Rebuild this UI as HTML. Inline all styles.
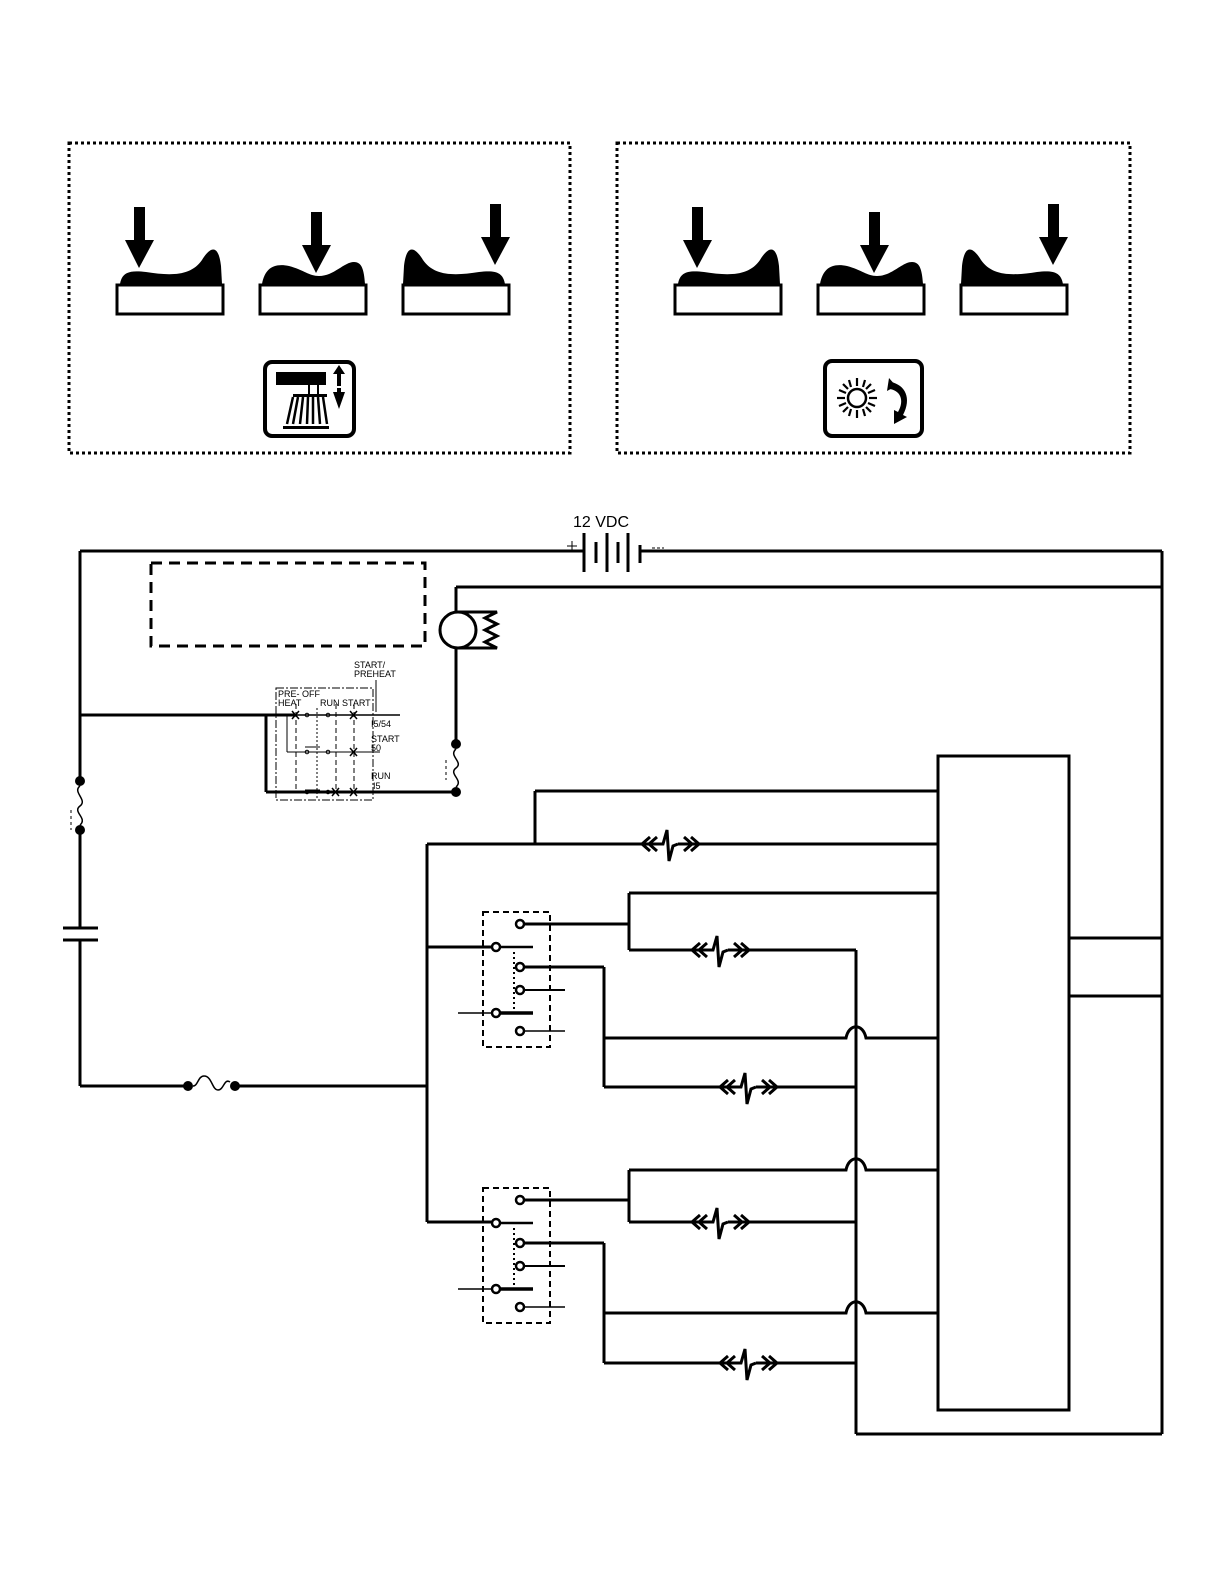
<!DOCTYPE html>
<html><head><meta charset="utf-8"><style>
html,body{margin:0;padding:0;background:#fff;}
svg{display:block;}
text{font-family:"Liberation Sans",sans-serif;}
</style></head><body>
<svg width="1219" height="1581" viewBox="0 0 1219 1581" xmlns="http://www.w3.org/2000/svg">
<defs>
<g id="conn">
<rect x="-10" y="-4" width="18" height="8" fill="#fff"/>
<path d="M-20,-7 L-28,0 L-20,7 M-13,-7 L-21,0 L-13,7 M14,-7 L22,0 L14,7 M21,-7 L29,0 L21,7" fill="none" stroke="#000" stroke-width="3"/>
<path d="M-12,0 L-7,0 L-3,-14 L-1,17 L3,2 L8,0" fill="none" stroke="#000" stroke-width="3"/>
</g>
<g id="pedA">
<path d="M4,284 C6,272 14,270 30,272 C55,276 75,276 86,260 C92,250 102,240 105,266 L106,284 Z" fill="#000"/>
<rect x="18" y="207" width="11" height="33" fill="#000"/>
<path d="M9,240 L38,240 L23,268 Z" fill="#000"/>
<rect x="1" y="285" width="106" height="29" fill="#fff" stroke="#000" stroke-width="3"/>
</g>
<g id="pedB">
<path d="M3,284 C6,268 15,263 30,266 C45,270 50,276 60,276 C75,276 85,262 95,262 C103,262 105,270 106,284 Z" fill="#000"/>
<rect x="52" y="212" width="11" height="34" fill="#000"/>
<path d="M43,245 L72,245 L57,273 Z" fill="#000"/>
<rect x="1" y="285" width="106" height="29" fill="#fff" stroke="#000" stroke-width="3"/>
</g>
<g id="pedC">
<path d="M103,284 C101,272 93,270 77,272 C52,276 32,276 21,260 C15,250 5,240 2,266 L1,284 Z" fill="#000"/>
<rect x="88" y="204" width="11" height="33" fill="#000"/>
<path d="M79,237 L108,237 L93,265 Z" fill="#000"/>
<rect x="1" y="285" width="106" height="29" fill="#fff" stroke="#000" stroke-width="3"/>
</g>
<g id="relay">
<rect x="483" y="0" width="67" height="135" fill="none" stroke="#000" stroke-width="2" stroke-dasharray="6,4"/>
<line x1="514" y1="40" x2="514" y2="100" stroke="#000" stroke-width="2" stroke-dasharray="2,3"/>
<g stroke="#000" stroke-width="2.5" fill="#fff">
<line x1="496" y1="35" x2="533" y2="35"/>
<line x1="458" y1="101" x2="496" y2="101" stroke-width="1.5"/>
<line x1="496" y1="101" x2="533" y2="101" stroke-width="3.5"/>
<line x1="520" y1="78" x2="565" y2="78" stroke-width="2"/>
<line x1="520" y1="119" x2="565" y2="119" stroke-width="1.5"/>
<circle cx="520" cy="12" r="4"/>
<circle cx="496" cy="35" r="4"/>
<circle cx="520" cy="55" r="4"/>
<circle cx="520" cy="78" r="4"/>
<circle cx="496" cy="101" r="4"/>
<circle cx="520" cy="119" r="4"/>
</g>
</g>
</defs>

<!-- top panels -->
<rect x="69" y="143" width="501" height="310" fill="none" stroke="#000" stroke-width="3" stroke-dasharray="3,3"/>
<rect x="617" y="143" width="513" height="310" fill="none" stroke="#000" stroke-width="3" stroke-dasharray="3,3"/>
<use href="#pedA" x="116"/><use href="#pedB" x="259"/><use href="#pedC" x="402"/>
<use href="#pedA" x="674"/><use href="#pedB" x="817"/><use href="#pedC" x="960"/>

<!-- icon 1 -->
<rect x="265" y="362" width="89" height="74" rx="7" fill="#fff" stroke="#000" stroke-width="4"/>
<rect x="276" y="372" width="50" height="13" fill="#000"/>
<rect x="309" y="384" width="9" height="11" fill="#fff" stroke="#000" stroke-width="2"/>
<rect x="293" y="394" width="34" height="3" fill="#000"/>
<path d="M293,397 L287,424 M298,397 L293,424 M303,397 L300,424 M308,397 L307,424 M313,397 L313,424 M318,397 L320,424 M323,397 L327,424" stroke="#000" stroke-width="2.5"/>
<rect x="283" y="426" width="46" height="3" fill="#000"/>
<path d="M339,365 L345,374 L341,374 L341,386 L337,386 L337,374 L333,374 Z M333,392 L345,392 L339,409 Z M337,388 h4 v6 h-4z" fill="#000"/>
<!-- icon 2 -->
<rect x="825" y="361" width="97" height="75" rx="7" fill="#fff" stroke="#000" stroke-width="4"/>
<circle cx="857" cy="398" r="9" fill="none" stroke="#000" stroke-width="2.5"/>
<g stroke="#000" stroke-width="2.2">
<line x1="857" y1="378" x2="857" y2="386"/><line x1="857" y1="410" x2="857" y2="418"/>
<line x1="837" y1="398" x2="845" y2="398"/><line x1="869" y1="398" x2="877" y2="398"/>
<line x1="843" y1="384" x2="848" y2="389"/><line x1="866" y1="407" x2="871" y2="412"/>
<line x1="871" y1="384" x2="866" y2="389"/><line x1="848" y1="407" x2="843" y2="412"/>
<line x1="849" y1="380" x2="851" y2="387"/><line x1="863" y1="409" x2="865" y2="416"/>
<line x1="865" y1="380" x2="863" y2="387"/><line x1="851" y1="409" x2="849" y2="416"/>
<line x1="839" y1="390" x2="846" y2="393"/><line x1="868" y1="403" x2="875" y2="406"/>
<line x1="875" y1="390" x2="868" y2="393"/><line x1="846" y1="403" x2="839" y2="406"/>
</g>
<path d="M891,382 C905,385 912,398 903,415 L907,417 L894,424 L894,410 L898,412 C905,400 900,390 889,389 Z" fill="#000"/>
<path d="M889,378 L896,386 L887,391 Z" fill="#000"/>

<!-- circuit -->
<g stroke="#000" stroke-width="3" fill="none">
<line x1="80" y1="551" x2="583" y2="551"/>
<line x1="640" y1="551" x2="1162" y2="551"/>
<line x1="1162" y1="551" x2="1162" y2="1434"/>
<line x1="856" y1="1434" x2="1162" y2="1434"/>
<line x1="456" y1="587" x2="1162" y2="587"/>
<line x1="456" y1="587" x2="456" y2="612"/>
<line x1="456" y1="648" x2="456" y2="744"/>
<line x1="80" y1="551" x2="80" y2="781"/>
<line x1="80" y1="830" x2="80" y2="928"/>
<line x1="80" y1="940" x2="80" y2="1086"/>
<line x1="80" y1="1086" x2="188" y2="1086"/>
<line x1="235" y1="1086" x2="427" y2="1086"/>
<line x1="80" y1="715" x2="294" y2="715"/>
<line x1="266" y1="715" x2="266" y2="792"/>
<line x1="266" y1="792" x2="456" y2="792"/>
<line x1="427" y1="844" x2="427" y2="1222"/>
<line x1="427" y1="844" x2="938" y2="844"/>
<line x1="535" y1="791" x2="535" y2="844"/>
<line x1="535" y1="791" x2="938" y2="791"/>
<rect x="938" y="756" width="131" height="654"/>
<line x1="1069" y1="938" x2="1162" y2="938"/>
<line x1="1069" y1="996" x2="1162" y2="996"/>
<line x1="856" y1="950" x2="856" y2="1434"/>
<!-- relay 1 wiring -->
<line x1="427" y1="947" x2="496" y2="947"/>
<line x1="520" y1="924" x2="629" y2="924"/>
<line x1="629" y1="893" x2="629" y2="950"/>
<line x1="629" y1="893" x2="938" y2="893"/>
<line x1="629" y1="950" x2="856" y2="950"/>
<line x1="520" y1="967" x2="604" y2="967"/>
<line x1="604" y1="967" x2="604" y2="1087"/>
<path d="M604,1038 L846,1038 C849,1023 863,1023 866,1038 L938,1038"/>
<line x1="604" y1="1087" x2="856" y2="1087"/>
<!-- relay 2 wiring -->
<line x1="427" y1="1222" x2="496" y2="1222"/>
<line x1="520" y1="1200" x2="629" y2="1200"/>
<line x1="629" y1="1170" x2="629" y2="1222"/>
<path d="M629,1170 L846,1170 C849,1155 863,1155 866,1170 L938,1170"/>
<line x1="629" y1="1222" x2="856" y2="1222"/>
<line x1="520" y1="1243" x2="604" y2="1243"/>
<line x1="604" y1="1243" x2="604" y2="1363"/>
<path d="M604,1313 L846,1313 C849,1298 863,1298 866,1313 L938,1313"/>
<line x1="604" y1="1363" x2="856" y2="1363"/>
</g>
<!-- battery -->
<g stroke="#000" fill="none">
<line x1="584" y1="533" x2="584" y2="572" stroke-width="3"/>
<line x1="596" y1="542" x2="596" y2="563" stroke-width="3"/>
<line x1="607" y1="533" x2="607" y2="572" stroke-width="3"/>
<line x1="618" y1="542" x2="618" y2="563" stroke-width="3"/>
<line x1="628" y1="533" x2="628" y2="572" stroke-width="3"/>
<line x1="640" y1="545" x2="640" y2="563" stroke-width="3"/>
<line x1="567" y1="546" x2="577" y2="546" stroke-width="1"/><line x1="572" y1="541" x2="572" y2="551" stroke-width="1"/>
<line x1="652" y1="548" x2="664" y2="548" stroke-width="1" stroke-dasharray="3,2"/>
</g>
<text x="573" y="527" font-size="16">12 VDC</text>
<!-- dashed placeholder -->
<rect x="151" y="563" width="274" height="83" fill="none" stroke="#000" stroke-width="3" stroke-dasharray="11,7"/>
<!-- lamp -->
<circle cx="458" cy="630" r="18" fill="#fff" stroke="#000" stroke-width="3"/>
<path d="M458,612 L497,612 L485,618 L497,624 L485,630 L497,636 L485,642 L497,648 L458,648" fill="none" stroke="#000" stroke-width="3"/>
<!-- fuses -->
<circle cx="456" cy="744" r="5" fill="#000"/><circle cx="456" cy="792" r="5" fill="#000"/>
<path d="M456,749 C448,756 464,762 456,768 C448,774 464,780 456,787" fill="none" stroke="#000" stroke-width="1.5"/>
<line x1="446" y1="760" x2="446" y2="780" stroke="#000" stroke-width="1" stroke-dasharray="3,3"/>
<circle cx="80" cy="781" r="5" fill="#000"/><circle cx="80" cy="830" r="5" fill="#000"/>
<path d="M80,786 C72,792 88,800 80,806 C72,812 88,818 80,825" fill="none" stroke="#000" stroke-width="1.5"/>
<line x1="71" y1="810" x2="71" y2="830" stroke="#000" stroke-width="1" stroke-dasharray="3,3"/>
<line x1="63" y1="928" x2="98" y2="928" stroke="#000" stroke-width="3"/>
<line x1="63" y1="940" x2="98" y2="940" stroke="#000" stroke-width="3"/>
<circle cx="188" cy="1086" r="5" fill="#000"/><circle cx="235" cy="1086" r="5" fill="#000"/>
<path d="M193,1086 C198,1086 198,1076 204,1076 C212,1076 212,1090 218,1090 C224,1090 224,1078 230,1082" fill="none" stroke="#000" stroke-width="1.5"/>
<!-- ignition switch -->
<g stroke="#000" fill="none">
<rect x="276" y="688" width="97" height="112" stroke-width="1" stroke-dasharray="8,2,2,2"/>
<line x1="294" y1="715" x2="400" y2="715" stroke-width="1.5"/>
<line x1="287" y1="752" x2="380" y2="752" stroke-width="1"/>
<line x1="287" y1="715" x2="287" y2="752" stroke-width="1"/>
<line x1="296" y1="704" x2="296" y2="792" stroke-width="1" stroke-dasharray="5,3"/>
<line x1="317" y1="708" x2="317" y2="800" stroke-width="1" stroke-dasharray="2,2"/>
<line x1="336" y1="704" x2="336" y2="792" stroke-width="1" stroke-dasharray="5,3"/>
<line x1="354" y1="704" x2="354" y2="792" stroke-width="1" stroke-dasharray="5,3"/>
<line x1="376" y1="680" x2="376" y2="712" stroke-width="1"/>
<line x1="305" y1="747" x2="320" y2="747" stroke-width="1"/>
<line x1="305" y1="790" x2="320" y2="790" stroke-width="1"/>
<path d="M292,711 l7,8 M299,711 l-7,8 M350,711 l7,8 M357,711 l-7,8 M350,748 l7,8 M357,748 l-7,8 M332,788 l7,8 M339,788 l-7,8 M350,788 l7,8 M357,788 l-7,8" stroke-width="1.5"/>
<circle cx="307" cy="715" r="1.8"/><circle cx="328" cy="715" r="1.8"/>
<circle cx="307" cy="752" r="1.8"/><circle cx="328" cy="752" r="1.8"/>
<circle cx="307" cy="792" r="1.8"/><circle cx="328" cy="792" r="1.8"/>
</g>
<g font-size="9" fill="#000">
<text x="354" y="668">START/</text><text x="354" y="677">PREHEAT</text>
<text x="278" y="697">PRE-</text><text x="302" y="697">OFF</text>
<text x="278" y="706">HEAT</text><text x="320" y="706">RUN</text><text x="342" y="706">START</text>
<text x="371" y="727">I5/54</text>
<text x="371" y="742">START</text><text x="371" y="751">50</text>
<text x="371" y="779">RUN</text><text x="373" y="789">I5</text>
</g>
<!-- relays -->
<use href="#relay" y="912"/>
<use href="#relay" y="1188"/>
<!-- connectors -->
<use href="#conn" x="670" y="844"/>
<use href="#conn" x="720" y="950"/>
<use href="#conn" x="748" y="1087"/>
<use href="#conn" x="720" y="1222"/>
<use href="#conn" x="748" y="1363"/>
</svg>
</body></html>
